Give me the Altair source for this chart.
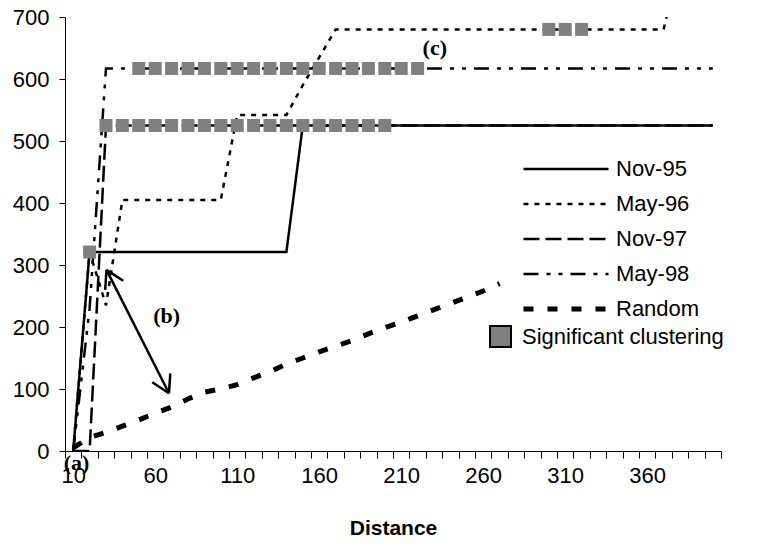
import altair as alt
import pandas as pd

# ---------------- data ----------------
distance = list(range(10, 410, 10))
series_names = ["Nov-95", "May-96", "Nov-97", "May-98", "Random"]

nov95 = [0] + [321] * 13 + [525] * 26
may96 = [0, 321, 235] + [405] * 7 + [542] * 4 + [590, 635] + [680] * 21 + [790] + [None, None]
nov97 = [0, 0] + [525] * 38
may98 = [0, 230] + [617] * 38
random_ = [5, 22, 30, 40, 50, 61, 71, 84, 95, 100, 107, 118, 128, 140, 150, 160, 169,
           178, 189, 199, 208, 218, 228, 238, 248, 258, 270] + [None] * 13

# distances where clustering was significant, per series
sig_nov95 = [20]
sig_may96 = [300, 310, 320]
sig_nov97 = list(range(30, 210, 10))
sig_may98 = list(range(50, 230, 10))

# annotations
ann_labels = ["(a)", "(b)", "(c)"]
ann_dist = [12, 67, 230.5]
ann_value = [-19, 218, 650]

# double-headed arrow (b): segments in data units
arrow_x = [30.3, 30.3, 30.3, 68.4, 68.4]
arrow_y = [292.1, 292.1, 292.1, 93.1, 93.1]
arrow_x2 = [68.4, 29.5, 40.5, 69.2, 58.2]
arrow_y2 = [93.1, 260.0, 274.5, 125.2, 110.9]

# ---------------- tables ----------------
all_series = {"Nov-95": nov95, "May-96": may96, "Nov-97": nov97, "May-98": may98, "Random": random_}
rows = []
for name, vals in all_series.items():
    for d, v in zip(distance, vals):
        if v is not None:
            rows.append({"series": name, "distance": d, "value": v})
df = pd.DataFrame(rows)

sig_map = {"Nov-95": sig_nov95, "May-96": sig_may96, "Nov-97": sig_nov97, "May-98": sig_may98}
srows = []
for name, ds in sig_map.items():
    vals = all_series[name]
    for d in ds:
        srows.append({"distance": d, "value": vals[distance.index(d)], "kind": "Significant clustering"})
sig_df = pd.DataFrame(srows)

ann_df = pd.DataFrame({"label": ann_labels, "distance": ann_dist, "value": ann_value})
arrow_df = pd.DataFrame({"distance": arrow_x, "value": arrow_y, "distance2": arrow_x2, "value2": arrow_y2})

# ---------------- styling ----------------
SANS = "Liberation Sans"
SERIF = "Liberation Serif"

x_enc = alt.X(
    "distance:Q",
    scale=alt.Scale(domain=[5, 405], nice=False, zero=False),
    title="Distance",
    axis=alt.Axis(
        values=[5 + 10 * i for i in range(41)],
        labelExpr="((datum.value - 5) % 50 == 0 && datum.value < 400) ? format(datum.value + 5, 'd') : ''",
        labelOffset=8.2,
        labelOverlap=False,
        labelFlush=False,
        tickSize=7,
        labelPadding=7,
        labelFont=SANS,
        labelFontSize=22,
        labelColor="black",
        tickColor="black",
        domainColor="black",
        grid=False,
        titleFont=SANS,
        titleFontSize=21,
        titleFontWeight="bold",
        titleColor="black",
        titlePadding=31,
    ),
)
y_enc = alt.Y(
    "value:Q",
    scale=alt.Scale(domain=[0, 700], nice=False),
    title=None,
    axis=alt.Axis(
        values=list(range(0, 800, 100)),
        tickSize=6,
        labelPadding=10,
        labelFont=SANS,
        labelFontSize=22,
        labelColor="black",
        tickColor="black",
        domainColor="black",
        grid=False,
    ),
)

leg1 = alt.Legend(
    orient="none", legendX=490, legendY=141, title=None,
    symbolType="M-4,0H4", symbolSize=452, symbolStrokeColor="black",
    symbolStrokeWidth={"expr": "datum.value == 'Random' ? 5 : 2.5"},
    labelFont=SANS, labelFontSize=22, labelColor="black", labelOffset=39,
    rowPadding=13, padding=0, labelLimit=300,
)
leg2 = alt.Legend(
    orient="none", legendX=424, legendY=308, title=None,
    symbolType="square", symbolSize=441, symbolStrokeColor="black", symbolStrokeWidth=2,
    labelFont=SANS, labelFontSize=22, labelColor="black", labelOffset=10,
    padding=0, labelLimit=300,
)

dashes = [[1, 0], [5, 6], [16, 6], [15, 8, 4, 8, 4, 8], [10, 14]]
dash_enc = alt.StrokeDash("series:N", scale=alt.Scale(domain=series_names, range=dashes), legend=leg1)

lines = alt.Chart(df).transform_filter("datum.series != 'Random'").mark_line(
    color="black", clip=True, strokeCap="butt", strokeWidth=2.5
).encode(x=x_enc, y=y_enc, strokeDash=dash_enc)

random_line = alt.Chart(df).transform_filter("datum.series == 'Random'").mark_line(
    color="black", clip=True, strokeCap="butt", strokeWidth=5
).encode(x=x_enc, y=y_enc, strokeDash=dash_enc)

points = alt.Chart(sig_df).mark_point(shape="square", filled=True, size=169, opacity=1).encode(
    x=x_enc,
    y=y_enc,
    color=alt.Color("kind:N", scale=alt.Scale(domain=["Significant clustering"], range=["#808080"]), legend=leg2),
)

arrow = alt.Chart(arrow_df).mark_rule(color="black", strokeWidth=2.5).encode(
    x=x_enc, y=y_enc, x2="distance2:Q", y2="value2:Q"
)

texts = alt.Chart(ann_df).mark_text(font=SERIF, fontWeight="bold", fontSize=22, color="black").encode(
    x=x_enc, y=y_enc, text="label:N"
)

chart = alt.layer(random_line, lines, points, arrow, texts).properties(
    width=656,
    height=434,
    autosize=alt.AutoSizeParams(type="none"),
    padding={"left": 57, "top": 9, "right": 30, "bottom": 90},
).configure_view(strokeWidth=0)

chart.save("out.html", embed_options={"renderer": "svg", "actions": False})
